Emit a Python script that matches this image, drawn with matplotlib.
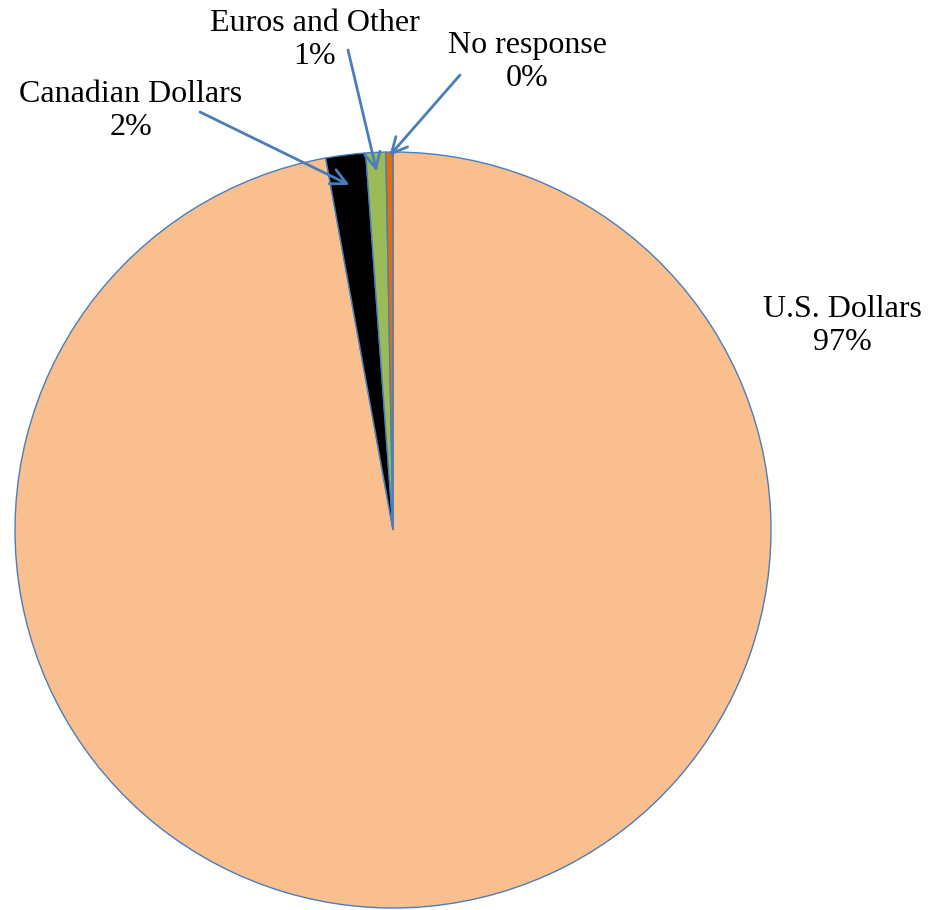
import numpy as np
import matplotlib.pyplot as plt

# currency shares (percent)
categories = ['U.S. Dollars', 'Canadian Dollars', 'Euros and Other', 'No response']
shares = [97.15, 1.7, 0.85, 0.3]
colors = ['#F9BF8F', '#000000', '#9BBB59', '#E46C0A']

# where each label sits, where its leader line starts and how far into the wedge it points
label_xy = [(842, 584), (131, 799), (315, 870), (527, 848)]
leader_start = [None, (200, 798), (348, 860), (460, 835)]
arrow_r = [None, 0.92, 0.95, 0.99]

W, H = 933, 910
cx, cy, R = 393, 380, 378

plt.close('all')
fig = plt.figure(figsize=(W / 100, H / 100), dpi=100)
ax = fig.add_axes([0, 0, 1, 1])

wedges, _ = ax.pie(shares, colors=colors, startangle=90, counterclock=False,
                   center=(cx, cy), radius=R,
                   wedgeprops=dict(edgecolor='#4A7EBB', linewidth=1.0))
ax.set_xlim(0, W)
ax.set_ylim(0, H)
ax.set_aspect('equal')
ax.axis('off')

for w, name, val, (tx, ty), start, r in zip(wedges, categories, shares,
                                             label_xy, leader_start, arrow_r):
    ax.text(tx, ty, '%s\n%d%%' % (name, round(val)), ha='center', va='center',
            fontsize=23, family='Liberation Serif', linespacing=1.2)
    if start is None:
        continue
    mid = np.deg2rad((w.theta1 + w.theta2) / 2)
    tip = (cx + r * R * np.cos(mid), cy + r * R * np.sin(mid))
    ax.annotate('', xy=tip, xytext=start,
                arrowprops=dict(arrowstyle='->', color='#4A7EBB', lw=2,
                                mutation_scale=28, shrinkA=0, shrinkB=0))

fig.savefig('out.png', dpi=100)
